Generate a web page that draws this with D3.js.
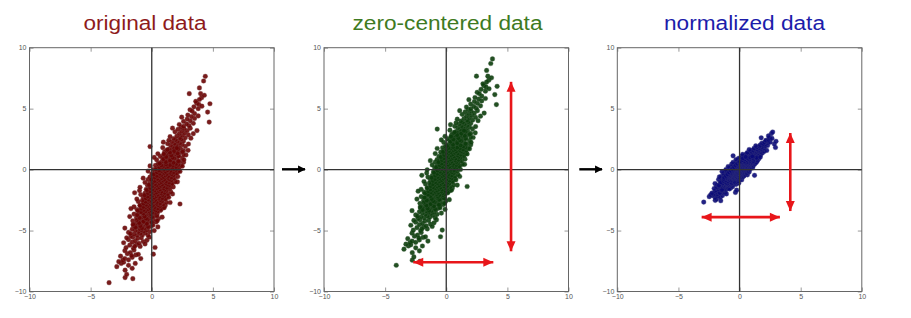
<!DOCTYPE html>
<html>
<head>
<meta charset="utf-8">
<script src="https://cdn.jsdelivr.net/npm/d3@7"></script>
<style>
  body { margin: 0; background: #fff; }
  svg { display: block; }
  text { font-family: "Liberation Sans", Arial, sans-serif; }
</style>
</head>
<body>
<div id="chart"></div>
<script>
const titles = ["original data", "zero-centered data", "normalized data"];
const ticks = [-10, -5, 0, 5, 10];

// original cloud (x, y in data units) - outer part
const originalHalo = [
  [-3.49,-9.28],[-1.55,-8.95],[-2.18,-8.86],[-2.05,-8.6],
  [-2.86,-7.96],[-2.18,-8.25],[-2.5,-7.7],[-1.9,-7.85],[-2.7,-7.55],[-1.6,-8.1],[-2.3,-7.6],[-1.35,-7.7],
  [-2.37,-7.43],[-2.2,-7.3],[-1.9,-7.4],[-1.6,-7.2],[-2.55,-7.1],[-1.3,-7.0],[-2.0,-6.9],[-1.75,-6.8],
  [-1.1,-6.95],[-2.2,-6.65],[-1.45,-6.6],[-0.9,-7.3],[0.13,-6.94],[-1.65,-7.05],
  [-2.1,-6.4],[-1.5,-6.45],[-0.95,-6.3],[-1.8,-6.2],[-1.25,-6.15],[0.27,-6.39],[-2.3,-6.0],[-1.6,-5.95],
  [-1.05,-6.05],[-0.7,-5.9],[-1.35,-5.85],[-1.9,-5.75],[-0.4,-5.8],[-1.15,-5.65],[-0.85,-5.6],[-1.55,-5.55],
  [-2.05,-5.6],[-0.55,-6.1],[-1.4,-6.3],[-0.2,-5.55],
  [-1.7,-5.45],[-1.2,-5.4],[-0.75,-5.35],[-0.3,-5.4],[-1.45,-5.3],[-0.95,-5.25],[-0.5,-5.2],[-1.9,-5.15],
  [-1.1,-5.1],[-0.65,-5.05],[-0.15,-5.1],[-1.35,-5.0],[-0.85,-4.95],[-0.4,-4.95],[0.2,-5.0],[-1.6,-4.9],
  [-1.0,-4.85],[-0.6,-4.8],[-0.25,-4.75],[-1.25,-4.7],[-0.75,-4.65],[-2.2,-4.8],[-0.05,-4.6],[-1.5,-4.6],
  [-0.95,-4.55],[-0.5,-4.5],[0.5,-4.7],[-1.75,-5.25],
  [-1.3,-4.45],[-0.85,-4.4],[-0.4,-4.42],[0.05,-4.38],[-1.05,-4.3],[-0.6,-4.28],[-0.15,-4.25],[0.35,-4.3],
  [-1.55,-4.2],[-0.75,-4.15],[-0.3,-4.12],[0.15,-4.1],[-1.0,-4.05],[-0.5,-4.0],[-0.05,-3.98],[0.55,-4.02],
  [-1.25,-3.95],[-0.8,-3.9],[-0.35,-3.88],[0.1,-3.85],[-0.6,-3.8],[-0.15,-3.75],[0.3,-3.78],[-1.1,-3.72],
  [-0.45,-3.68],[0.0,-3.65],[0.85,-3.9],[-1.8,-3.85],[-0.7,-3.6],[-0.25,-3.55],[0.2,-3.58],[-0.95,-3.52],
  [0.45,-3.6],[-1.45,-3.65],
  [-0.9,-3.45],[-0.45,-3.42],[0.0,-3.4],[0.4,-3.45],[-0.65,-3.35],[-0.2,-3.32],[0.25,-3.3],[0.7,-3.35],
  [-1.2,-3.28],[-0.4,-3.22],[0.05,-3.2],[0.5,-3.18],[-0.8,-3.12],[-0.25,-3.1],[0.2,-3.08],[0.9,-3.15],
  [-1.45,-3.05],[-0.55,-3.0],[-0.05,-2.98],[0.35,-2.95],[-0.95,-2.92],[-0.3,-2.9],[0.15,-2.88],[0.6,-2.85],
  [-0.7,-2.8],[-0.15,-2.78],[0.3,-2.75],[1.1,-2.95],[-0.45,-2.7],[0.0,-2.68],[0.45,-2.65],[-1.1,-2.62],
  [-0.2,-2.6],[0.75,-2.58],[-0.6,-2.55],[0.2,-2.52],[-1.7,-3.2],[1.5,-2.7],[2.31,-2.82],
  [-0.5,-2.45],[-0.05,-2.42],[0.4,-2.4],[0.85,-2.45],[-0.25,-2.35],[0.2,-2.32],[0.65,-2.3],[1.1,-2.33],
  [-1.22,-2.41],[-0.7,-2.25],[0.0,-2.22],[0.45,-2.2],[0.9,-2.18],[-0.4,-2.12],[0.15,-2.1],[0.6,-2.08],
  [1.3,-2.15],[-0.9,-2.05],[-0.15,-2.0],[0.3,-1.98],[0.75,-1.95],[-0.55,-1.92],[0.05,-1.9],[0.5,-1.88],
  [1.0,-1.85],[-0.3,-1.8],[0.2,-1.78],[0.65,-1.75],[-1.0,-1.72],[-0.05,-1.7],[0.4,-1.68],[0.9,-1.65],
  [-0.45,-1.62],[0.1,-1.6],[0.55,-1.58],[1.25,-1.6],[-0.2,-1.55],[0.35,-1.52],[-1.4,-1.9],[1.7,-2.0],
  [-0.96,-1.45],[-0.1,-1.45],[0.35,-1.42],[0.8,-1.4],[1.25,-1.45],[0.1,-1.35],[0.55,-1.32],[1.0,-1.3],
  [1.5,-1.35],[-0.35,-1.28],[0.3,-1.22],[0.75,-1.2],[1.2,-1.18],[-0.15,-1.12],[0.45,-1.1],[0.9,-1.08],
  [1.6,-1.15],[-0.55,-1.05],[0.2,-1.0],[0.65,-0.98],[1.1,-0.95],[0.0,-0.92],[0.45,-0.9],[0.95,-0.88],
  [1.4,-0.85],[-0.3,-0.82],[0.3,-0.8],[0.75,-0.78],[1.2,-0.75],[0.05,-0.72],[0.55,-0.7],[1.0,-0.68],
  [1.7,-0.72],[-0.15,-0.62],[0.4,-0.6],[0.85,-0.58],[1.3,-0.55],[0.6,-0.52],[2.1,-1.0],[-0.7,-0.7],
  [0.2,-0.45],[0.65,-0.42],[1.1,-0.4],[1.55,-0.45],[0.0,-0.35],[0.45,-0.32],[0.9,-0.3],[1.35,-0.28],
  [1.9,-0.35],[0.25,-0.22],[0.7,-0.2],[1.15,-0.18],[1.6,-0.15],[-0.3,-0.12],[0.5,-0.1],[0.95,-0.08],
  [1.4,-0.05],[2.2,-0.1],[0.15,0.0],[0.75,0.02],[1.2,0.05],[1.7,0.08],[0.4,0.12],[1.0,0.15],
  [1.45,0.18],[2.0,0.2],[0.6,0.25],[1.1,0.28],[1.6,0.3],[0.3,0.35],[0.85,0.38],[1.3,0.4],
  [2.4,0.35],[0.7,0.45],[1.5,0.48],[-0.14,0.3],
  [0.6,0.55],[1.05,0.58],[1.5,0.6],[2.0,0.55],[0.85,0.68],[1.3,0.7],[1.75,0.72],[2.3,0.68],
  [0.4,0.8],[1.1,0.82],[1.55,0.85],[2.05,0.88],[0.9,0.95],[1.35,0.98],[1.85,1.0],[2.5,0.95],
  [0.7,1.08],[1.2,1.1],[1.65,1.12],[2.15,1.15],[1.0,1.22],[1.45,1.25],[1.95,1.28],[0.5,1.3],
  [1.25,1.35],[1.75,1.38],[2.3,1.4],[1.05,1.45],[1.55,1.48],[2.8,1.2],[0.2,1.0],[2.6,0.6],
  [1.2,1.55],[1.65,1.58],[2.1,1.6],[2.6,1.55],[1.45,1.7],[1.9,1.72],[2.35,1.75],[0.9,1.8],
  [1.75,1.85],[2.2,1.88],[2.75,1.9],[-0.14,1.89],[1.55,2.0],[2.0,2.02],[2.5,2.05],[1.3,2.12],
  [1.85,2.15],[2.3,2.18],[3.0,2.1],[0.95,2.25],[1.65,2.3],[2.1,2.32],[2.6,2.35],[1.95,2.45],
  [2.4,2.48],[1.4,2.4],
  [1.8,2.55],[2.3,2.6],[2.75,2.62],[3.2,2.58],[1.5,2.7],[2.05,2.75],[2.5,2.8],[3.0,2.85],
  [2.25,2.95],[2.7,3.0],[3.4,2.95],[1.9,3.1],[2.45,3.15],[2.9,3.2],[2.15,3.3],[2.65,3.35],
  [3.15,3.4],[2.4,3.48],[3.7,3.2],[1.7,3.4],
  [2.6,3.55],[3.05,3.6],[2.25,3.7],[2.85,3.75],[3.4,3.8],[4.7,3.9],[2.6,3.95],[3.15,4.0],
  [2.9,4.15],[3.5,4.2],[2.45,4.3],[3.25,4.35],[3.8,4.4],[2.95,4.48],
  [3.13,4.91],[4.57,4.72],[3.5,4.6],[3.3,4.8],[3.8,5.0],[3.45,5.15],[4.76,5.4],[3.67,5.46],
  [3.85,5.35],[4.1,5.2],
  [3.6,5.6],[4.08,5.9],[3.9,5.75],[3.07,6.23],[4.0,6.23],[4.3,6.1],
  [4.24,7.27],[4.38,7.65],[3.9,6.7]
];

// dense core of the same cloud (solid region between y = -5 and y = 2)
const originalCore = [
  [-0.81,-4.8],[-1.34,-4.74],[-0.31,-4.68],[-0.93,-4.62],[0.09,-4.56],[-1.53,-4.5],[-0.41,-4.44],[-1.03,-4.38],
  [0.0,-4.32],[-0.68,-4.26],[0.45,-4.2],[-1.23,-4.14],[-0.35,-4.08],[-0.47,-4.02],[-1.0,-3.96],[0.03,-3.9],
  [-0.59,-3.84],[0.43,-3.78],[-1.19,-3.72],[-0.07,-3.66],[-0.69,-3.6],[0.34,-3.54],
  [0.05,-3.5],[-0.89,-3.475],[-0.17,-3.45],[0.49,-3.425],[-0.5,-3.4],[-1.14,-3.375],[0.32,-3.35],[-0.07,-3.325],
  [-0.66,-3.3],[0.75,-3.275],[-0.29,-3.25],[0.22,-3.225],[-0.87,-3.2],[0.5,-3.175],[-0.14,-3.15],[1.02,-3.125],
  [-0.52,-3.1],[0.24,-3.075],[-0.7,-3.05],[0.01,-3.025],[0.67,-3.0],[-0.32,-2.975],[-0.96,-2.95],[0.51,-2.925],
  [0.12,-2.9],[-0.47,-2.875],[0.94,-2.85],[-0.1,-2.825],[0.41,-2.8],[-0.68,-2.775],[0.68,-2.75],[0.04,-2.725],
  [1.2,-2.7],[-0.34,-2.675],[0.42,-2.65],[-0.51,-2.625],[0.2,-2.6],[0.86,-2.575],[-0.13,-2.55],[-0.77,-2.525],
  [0.69,-2.5],[0.3,-2.475],[-0.29,-2.45],[1.12,-2.425],[0.08,-2.4],[0.6,-2.375],[-0.49,-2.35],[0.87,-2.325],
  [0.23,-2.3],[1.39,-2.275],[-0.15,-2.25],[0.61,-2.225],[-0.33,-2.2],[0.38,-2.175],[1.04,-2.15],[0.05,-2.125],
  [-0.59,-2.1],[0.88,-2.075],[0.49,-2.05],[-0.1,-2.025],[1.31,-2.0],[0.27,-1.975],[0.78,-1.95],[-0.31,-1.925],
  [1.05,-1.9],[0.41,-1.875],[1.57,-1.85],[0.03,-1.825],[0.8,-1.8],[-0.14,-1.775],[0.57,-1.75],[1.23,-1.725],
  [0.24,-1.7],[-0.4,-1.675],[1.06,-1.65],[0.67,-1.625],[0.08,-1.6],[1.49,-1.575],[0.45,-1.55],[0.97,-1.525],
  [-0.12,-1.5],[1.24,-1.475],[0.6,-1.45],[1.76,-1.425],[0.22,-1.4],[0.98,-1.375],[0.04,-1.35],[0.75,-1.325],
  [1.41,-1.3],[0.42,-1.275],[-0.22,-1.25],[1.25,-1.225],[0.86,-1.2],[0.27,-1.175],[1.68,-1.15],[0.64,-1.125],
  [1.15,-1.1],[0.06,-1.075],[1.42,-1.05],[0.78,-1.025],[1.94,-1.0],[0.41,-0.975],[1.17,-0.95],[0.23,-0.925],
  [0.94,-0.9],[1.6,-0.875],[0.61,-0.85],[-0.03,-0.825],[1.43,-0.8],[1.04,-0.775],[0.45,-0.75],[1.86,-0.725],
  [0.82,-0.7],[1.34,-0.675],[0.25,-0.65],[1.61,-0.625],[0.97,-0.6],[2.13,-0.575],[0.59,-0.55],[1.35,-0.525],
  [0.41,-0.5],[1.12,-0.475],[1.78,-0.45],[0.8,-0.425],[0.16,-0.4],[1.62,-0.375],[1.23,-0.35],[0.64,-0.325],
  [2.05,-0.3],[1.01,-0.275],[1.52,-0.25],[0.43,-0.225],[1.79,-0.2],[1.15,-0.175],[2.31,-0.15],[0.78,-0.125],
  [1.54,-0.1],[0.6,-0.075],[1.31,-0.05],[1.97,-0.025],[0.98,0.0],[0.34,0.025],[1.8,0.05],[1.41,0.075],
  [0.82,0.1],[2.23,0.125],[1.2,0.15],[1.71,0.175],[0.62,0.2],[1.98,0.225],[1.34,0.25],[2.5,0.275],
  [0.96,0.3],[1.72,0.325],[0.78,0.35],[1.49,0.375],[2.16,0.4],[1.17,0.425],[0.53,0.45],[1.99,0.475],
  [0.65,0.5],[1.77,0.56],[1.15,0.62],[2.18,0.68],[1.5,0.74],[2.63,0.8],[0.95,0.86],[1.83,0.92],
  [1.71,0.98],[1.18,1.04],[2.21,1.1],[1.59,1.16],[2.61,1.22],[0.99,1.28],[2.11,1.34],[1.49,1.4],
  [2.52,1.46],[1.84,1.52],[2.97,1.58],[1.29,1.64],[2.17,1.7],[2.05,1.76]
];
const originalPoints = originalHalo.concat(originalCore);

// red spread arrows (panel index, endpoints in data units)
const spreadArrows = [
  { panel: 1, x1: 5.3,  y1: -6.7, x2: 5.3,  y2: 7.2 },
  { panel: 1, x1: -2.7, y1: -7.6, x2: 3.85, y2: -7.6 },
  { panel: 2, x1: 4.15, y1: -3.4, x2: 4.15, y2: 3.0 },
  { panel: 2, x1: -3.1, y1: -3.9, x2: 3.3,  y2: -3.9 }
];

// derived panels: subtract the mean, then divide by the std
const mx = d3.mean(originalPoints, d => d[0]);
const my = d3.mean(originalPoints, d => d[1]);
const centeredPoints = originalPoints.map(d => [d[0] - mx, d[1] - my]);
const sx = d3.deviation(centeredPoints, d => d[0]);
const sy = d3.deviation(centeredPoints, d => d[1]);
const normalizedPoints = centeredPoints.map(d => [d[0] / sx, d[1] / sy]);
const pointSets = [originalPoints, centeredPoints, normalizedPoints];

const width = 911, height = 318;
const panelLefts = [29.5, 324, 617.3];
const panelTop = 47.7, panelW = 244.5, panelH = 243.8;
const titleX = [145, 447.5, 744.5];
const titleW = [123, 190, 161];
const titleColors = ["#8e1b1b", "#3e7a22", "#1c1caa"];
const dotFill = ["#6a0303", "#0b3d0b", "#0a0a78"];
const dotEdge = ["#7e4a4a", "#3f5f3f", "#40407e"];

const svg = d3.select("#chart").append("svg")
  .attr("width", width)
  .attr("height", height)
  .style("background", "#fff");

svg.append("defs").append("marker")
  .attr("id", "blackHead")
  .attr("viewBox", "0 0 10 10")
  .attr("refX", 9).attr("refY", 5)
  .attr("markerWidth", 3.2).attr("markerHeight", 3.2)
  .attr("markerUnits", "strokeWidth")
  .attr("orient", "auto")
  .append("path").attr("d", "M0,0L10,5L0,10Z").attr("fill", "#000");

pointSets.forEach((points, i) => {
  const g = svg.append("g").attr("transform", `translate(${panelLefts[i]},${panelTop})`);
  const x = d3.scaleLinear().domain([-10, 10]).range([0, panelW]);
  const y = d3.scaleLinear().domain([-10, 10]).range([panelH, 0]);

  // ticks on all four sides, pointing inward
  const styleAxis = a => {
    a.select(".domain").remove();
    a.selectAll(".tick line").attr("stroke", "#999");
    a.selectAll(".tick text").attr("fill", "#555").style("font-size", "7px");
  };
  g.append("g").attr("transform", `translate(0,${panelH})`)
    .call(d3.axisBottom(x).tickValues(ticks).tickSize(-4).tickPadding(3)).call(styleAxis);
  g.append("g")
    .call(d3.axisLeft(y).tickValues(ticks).tickSize(-4).tickPadding(3)).call(styleAxis);
  g.append("g")
    .call(d3.axisTop(x).tickValues(ticks).tickSize(-4).tickFormat("")).call(styleAxis);
  g.append("g").attr("transform", `translate(${panelW},0)`)
    .call(d3.axisRight(y).tickValues(ticks).tickSize(-4).tickFormat("")).call(styleAxis);

  g.append("rect")
    .attr("width", panelW).attr("height", panelH)
    .attr("fill", "none").attr("stroke", "#666").attr("stroke-width", 1);

  g.selectAll("circle")
    .data(points)
    .enter()
    .append("circle")
    .attr("cx", d => x(d[0]))
    .attr("cy", d => y(d[1]))
    .attr("r", 2.35)
    .attr("fill", dotFill[i])
    .attr("fill-opacity", 0.9)
    .attr("stroke", dotEdge[i])
    .attr("stroke-opacity", 0.55)
    .attr("stroke-width", 0.6);

  // zero lines
  g.append("line").attr("x1", x(0)).attr("x2", x(0)).attr("y1", 0).attr("y2", panelH)
    .attr("stroke", "#333").attr("stroke-width", 1.3);
  g.append("line").attr("x1", 0).attr("x2", panelW).attr("y1", y(0)).attr("y2", y(0))
    .attr("stroke", "#333").attr("stroke-width", 1.3);

  // red double-headed arrows
  spreadArrows.filter(a => a.panel === i).forEach(a => {
    const p1 = [x(a.x1), y(a.y1)], p2 = [x(a.x2), y(a.y2)];
    const ang = Math.atan2(p2[1] - p1[1], p2[0] - p1[0]);
    const head = (p, dir) => {
      const L = 10, W = 4.5;
      const bx = p[0] - dir * L * Math.cos(ang), by = p[1] - dir * L * Math.sin(ang);
      const nx = -Math.sin(ang) * W, ny = Math.cos(ang) * W;
      return `M${p[0]},${p[1]}L${bx + nx},${by + ny}L${bx - nx},${by - ny}Z`;
    };
    g.append("line")
      .attr("x1", p1[0]).attr("y1", p1[1]).attr("x2", p2[0]).attr("y2", p2[1])
      .attr("stroke", "#e8161a").attr("stroke-width", 2.6);
    g.append("path").attr("d", head(p2, 1)).attr("fill", "#e8161a");
    g.append("path").attr("d", head(p1, -1)).attr("fill", "#e8161a");
  });

  svg.append("text")
    .attr("x", titleX[i]).attr("y", 29.5)
    .attr("text-anchor", "middle")
    .attr("textLength", titleW[i])
    .attr("lengthAdjust", "spacingAndGlyphs")
    .attr("fill", titleColors[i])
    .style("font-size", "20px")
    .text(titles[i]);
});

// black arrows between panels
[[282, 305], [579.3, 602]].forEach(([a, b]) => {
  svg.append("line")
    .attr("x1", a).attr("x2", b).attr("y1", 169.3).attr("y2", 169.3)
    .attr("stroke", "#000").attr("stroke-width", 2.4)
    .attr("marker-end", "url(#blackHead)");
});
</script>
</body>
</html>
